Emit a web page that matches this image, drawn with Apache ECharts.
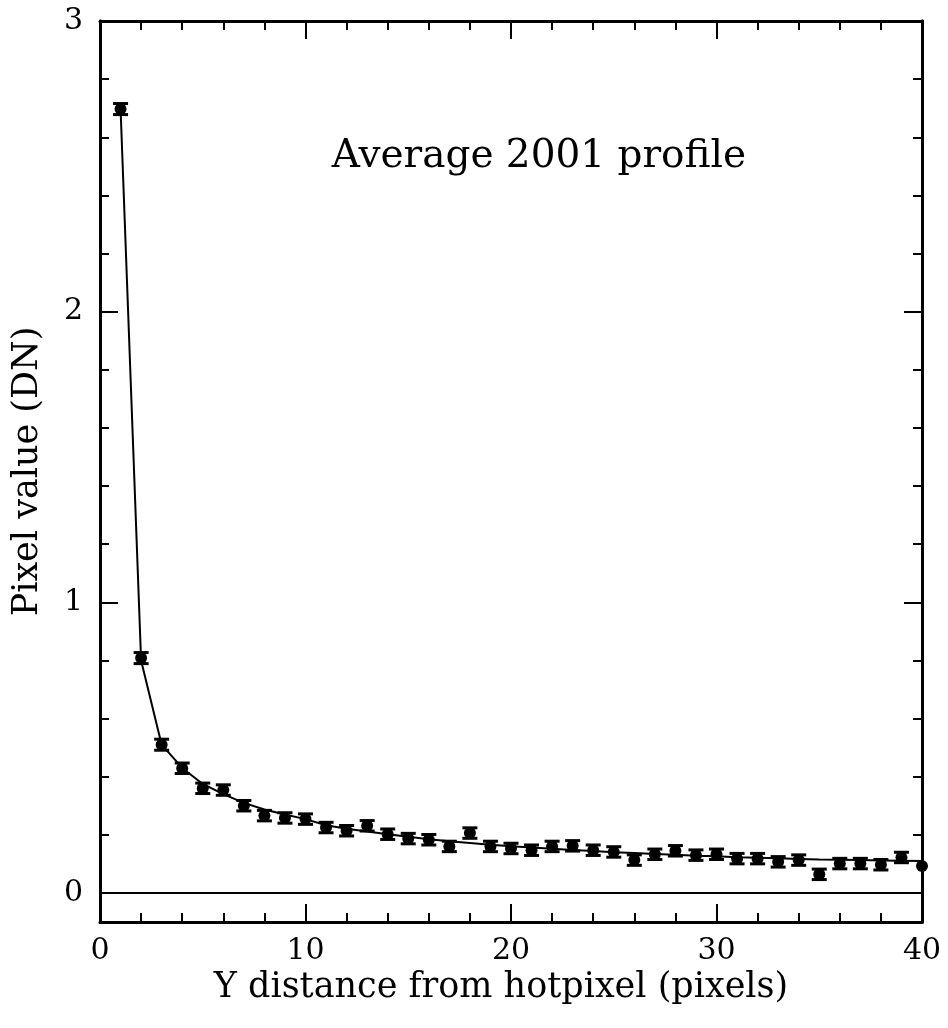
<!DOCTYPE html>
<html>
<head>
<meta charset="utf-8">
<script src="https://cdn.jsdelivr.net/npm/echarts@6/dist/echarts.min.js"></script>
<style>html,body{margin:0;padding:0;background:#fff}#c{width:948px;height:1028px}</style>
</head>
<body>
<div id="c"></div>
<script>
// Data
const xs = [1,2,3,4,5,6,7,8,9,10,11,12,13,14,15,16,17,18,19,20,21,22,23,24,25,26,27,28,29,30,31,32,33,34,35,36,37,38,39,40];
const pixelValues = [2.697,0.808,0.510,0.429,0.360,0.354,0.300,0.266,0.258,0.254,0.225,0.214,0.231,0.202,0.187,0.183,0.160,0.206,0.160,0.153,0.147,0.160,0.162,0.147,0.141,0.113,0.133,0.145,0.130,0.133,0.118,0.118,0.107,0.113,0.064,0.101,0.101,0.097,0.122,0.093];
const errors = [0.019,0.019,0.019,0.018,0.018,0.018,0.018,0.018,0.018,0.018,0.018,0.018,0.018,0.018,0.018,0.018,0.018,0.018,0.018,0.018,0.018,0.018,0.018,0.018,0.018,0.018,0.018,0.018,0.018,0.018,0.018,0.018,0.018,0.018,0.018,0.018,0.018,0.018,0.018,0];
const fitValues = [2.70,0.80,0.51,0.43,0.375,0.34,0.31,0.287,0.27,0.254,0.233,0.221,0.211,0.202,0.193,0.185,0.178,0.172,0.166,0.161,0.156,0.152,0.148,0.144,0.140,0.137,0.134,0.131,0.128,0.126,0.123,0.121,0.119,0.117,0.115,0.114,0.113,0.112,0.111,0.110];
const xTicks = [0,10,20,30,40];
const yMajorTicks = [0,1,2,3];
const yMinorTicks = [0.2,0.4,0.6,0.8,1.2,1.4,1.6,1.8,2.2,2.4,2.6,2.8];
const titleText = 'Average 2001 profile';
const xName = 'Y distance from hotpixel (pixels)';
const yName = 'Pixel value (DN)';

const FONT = 'DejaVu Serif';
const chart = echarts.init(document.getElementById('c'), null, {renderer:'canvas'});

function xAxisCfg(pos, showLabel){
  return {
    type:'value', position:pos, min:xTicks[0], max:xTicks[xTicks.length-1], interval:xTicks[1]-xTicks[0],
    axisLine:{show:true, onZero:false, lineStyle:{color:'#000', width:3}},
    axisTick:{show:true, inside:true, length:18, lineStyle:{color:'#000', width:2}},
    minorTick:{show:true, splitNumber:5, length:9, lineStyle:{color:'#000', width:2}},
    splitLine:{show:false}, minorSplitLine:{show:false},
    axisLabel:{show:showLabel, margin:14, color:'#000', fontFamily:FONT, fontSize:30},
    name: showLabel ? xName : '', nameLocation:'middle', nameGap:47,
    nameTextStyle:{color:'#000', fontFamily:FONT, fontSize:35, padding:[0,20,0,0]}
  };
}
function yAxisCfg(pos, ticks, len, showLabel){
  return {
    type:'value', position:pos, min:-0.1, max:3,
    axisLine:{show:true, onZero:false, lineStyle:{color:'#000', width:3}},
    axisTick:{show:true, inside:true, length:len, customValues:ticks, lineStyle:{color:'#000', width:2}},
    splitLine:{show:false},
    axisLabel:{show:showLabel, customValues:ticks, margin:17, color:'#000', fontFamily:FONT, fontSize:30},
    name: showLabel ? yName : '', nameLocation:'middle', nameGap:55, nameRotate:90,
    nameTextStyle:{color:'#000', fontFamily:FONT, fontSize:35}
  };
}

const pts = xs.map((x,i)=>[x, pixelValues[i], errors[i]]);
const fit = xs.map((x,i)=>[x, fitValues[i]]);

chart.setOption({
  animation:false,
  backgroundColor:'#fff',
  grid:{left:100, right:26, top:21, bottom:106, containLabel:false},
  xAxis:[xAxisCfg('bottom', true), xAxisCfg('top', false)],
  yAxis:[
    yAxisCfg('left', yMajorTicks, 18, true),
    yAxisCfg('left', yMinorTicks, 9, false),
    yAxisCfg('right', yMajorTicks, 18, false),
    yAxisCfg('right', yMinorTicks, 9, false)
  ],
  graphic:[{
    type:'text', x:539, y:157,
    style:{text:titleText, fill:'#000', font:'39px "DejaVu Serif"', textAlign:'center', textVerticalAlign:'middle'}
  }],
  series:[
    {
      type:'line', data:fit, xAxisIndex:0, yAxisIndex:0, showSymbol:false, symbol:'none',
      lineStyle:{color:'#000', width:2}, silent:true, clip:false,
      markLine:{silent:true, symbol:'none', label:{show:false},
        lineStyle:{color:'#000', width:2, type:'solid'}, data:[{yAxis:0}]}
    },
    {
      type:'custom', xAxisIndex:0, yAxisIndex:0, data:pts, clip:false,
      renderItem:function(params, api){
        const x = api.value(0), y = api.value(1), e = api.value(2);
        if(!e) return {type:'group', children:[]};
        const t = api.coord([x, y+e]), b = api.coord([x, y-e]);
        const hw = 7.5;
        return {type:'group', children:[
          {type:'line', shape:{x1:t[0], y1:t[1], x2:b[0], y2:b[1]}, style:{stroke:'#000', lineWidth:2}},
          {type:'line', shape:{x1:t[0]-hw, y1:t[1], x2:t[0]+hw, y2:t[1]}, style:{stroke:'#000', lineWidth:3}},
          {type:'line', shape:{x1:b[0]-hw, y1:b[1], x2:b[0]+hw, y2:b[1]}, style:{stroke:'#000', lineWidth:3}}
        ]};
      }
    },
    {
      type:'scatter', data:pts, xAxisIndex:0, yAxisIndex:0, symbol:'circle', symbolSize:12,
      itemStyle:{color:'#000', opacity:1}, clip:false
    }
  ]
});
</script>
</body>
</html>
